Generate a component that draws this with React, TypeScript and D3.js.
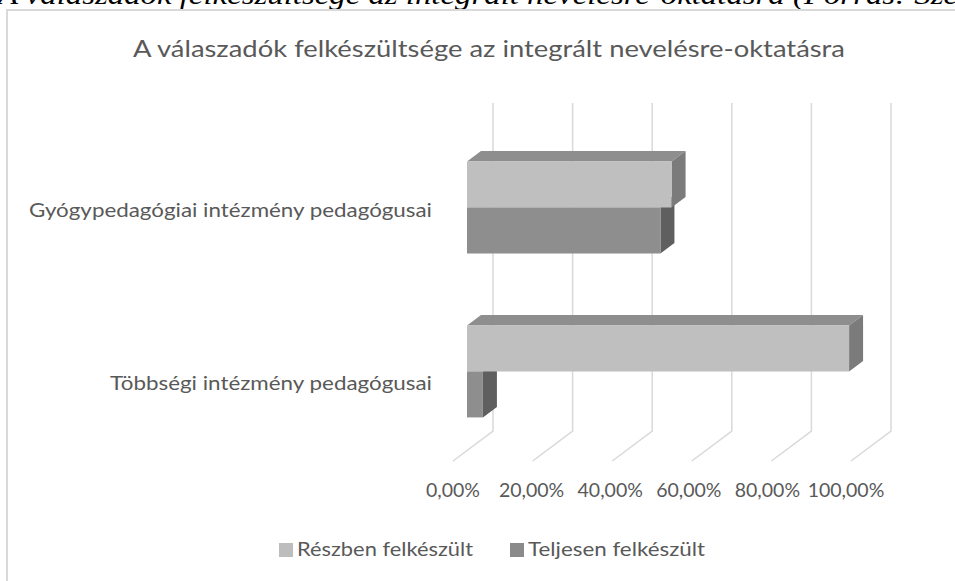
import * as d3 from "d3";

const categories = ["Gyógypedagógiai intézmény pedagógusai", "Többségi intézmény pedagógusai"];
const seriesNames = ["Részben felkészült", "Teljesen felkészült"];
const reszben = [51.4, 96];
const teljesen = [48.6, 4];
const tickValues = [0, 20, 40, 60, 80, 100];
const tickLabels = ["0,00%", "20,00%", "40,00%", "60,00%", "80,00%", "100,00%"];
const chartTitle = "A válaszadók felkészültsége az integrált nevelésre-oktatásra";
const caption = "A válaszadók felkészültsége az integrált nevelésre-oktatásra (Forrás: Sze";

const font = "Lato, 'Open Sans', sans-serif";
const textColor = "#595959";
const faceColors = [
  { front: "#bfbfbf", top: "#8e8e8e", side: "#7b7b7b" },
  { front: "#8e8e8e", top: "#6e6e6e", side: "#5f5f5f" },
];
const legendColors = ["#bdbdbd", "#8a8a8a"];

// 3d box: depth vector goes up-right
const depthX = 40;
const depthY = -30;
const wallTop = 133; // front-plane coords
const wallBottom = 461;
const barD0 = 0.35;
const barD1 = 0.7;

export default function App() {
  const x = d3.scaleLinear().domain([0, 100]).range([453, 851]);
  const y = d3.scaleBand<string>().domain(categories).range([136, 464]).paddingInner(0.44).paddingOuter(0.22);
  const ySub = d3.scaleBand<string>().domain(seriesNames).range([0, y.bandwidth()]);
  const values = [reszben, teljesen];

  const pt = (v: number, yy: number, d: number) => [x(v) + depthX * d, yy + depthY * d];
  const poly = (pts: number[][]) => "M" + pts.map((p) => p.join(",")).join("L") + "Z";

  const gridPath = (t: number) => {
    const top = pt(t, wallTop, 1);
    const bot = pt(t, wallBottom, 1);
    const front = pt(t, wallBottom, 0);
    return `M${top[0]},${top[1]}L${bot[0]},${bot[1]}L${front[0]},${front[1]}`;
  };

  // draw lower series first so upper bars cover their top faces
  const bars: JSX.Element[] = [];
  categories.forEach((c, ci) => {
    [1, 0].forEach((si) => {
      const v = values[si][ci];
      const y0 = (y(c) as number) + (ySub(seriesNames[si]) as number);
      const y1 = y0 + ySub.bandwidth();
      const col = faceColors[si];
      const front = [pt(0, y0, barD0), pt(v, y0, barD0), pt(v, y1, barD0), pt(0, y1, barD0)];
      const top = [pt(0, y0, barD0), pt(v, y0, barD0), pt(v, y0, barD1), pt(0, y0, barD1)];
      const side = [pt(v, y0, barD0), pt(v, y0, barD1), pt(v, y1, barD1), pt(v, y1, barD0)];
      bars.push(
        <g key={c + si}>
          <path d={poly(top)} fill={col.top} />
          <path d={poly(side)} fill={col.side} />
          <path d={poly(front)} fill={col.front} />
        </g>
      );
    });
  });

  return (
    <svg width={955} height={581} style={{ position: "absolute", left: 0, top: 0, background: "#fff" }}>
      <text x={-2} y={4} fontFamily="'Liberation Serif', serif" fontStyle="italic" fontSize={28} fill="#000"
        textLength={960} lengthAdjust="spacingAndGlyphs">{caption}</text>
      <rect x={7} y={10} width={1000} height={1000} fill="#fff" stroke="#d9d9d9" strokeWidth={2} />

      <text x={489} y={57} textAnchor="middle" fontFamily={font} fontSize={23} fill={textColor}
        textLength={712} lengthAdjust="spacingAndGlyphs">{chartTitle}</text>

      <g fill="none" stroke="#d9d9d9" strokeWidth={1.5}>
        {tickValues.map((t) => <path key={t} d={gridPath(t)} />)}
      </g>

      {bars}

      <g fontFamily={font} fontSize={20} fill={textColor} textAnchor="end">
        {categories.map((c, i) => (
          <text key={c} x={432} y={(y(c) as number) + y.bandwidth() / 2 + [-1, 8][i]}
            textLength={i === 0 ? 403 : 322} lengthAdjust="spacingAndGlyphs">{c}</text>
        ))}
      </g>

      <g fontFamily={font} fontSize={19.5} fill={textColor} textAnchor="middle">
        {tickValues.map((t, i) => (
          <text key={t} x={x(t) - i} y={497}>{tickLabels[i]}</text>
        ))}
      </g>

      <g fontFamily={font} fontSize={19} fill={textColor}>
        {seriesNames.map((s, i) => {
          const lx = [279, 510][i];
          return (
            <g key={s}>
              <rect x={lx} y={543} width={14} height={14} fill={legendColors[i]} />
              <text x={lx + 18} y={556} textLength={[176, 177][i]} lengthAdjust="spacingAndGlyphs">{s}</text>
            </g>
          );
        })}
      </g>
    </svg>
  );
}
